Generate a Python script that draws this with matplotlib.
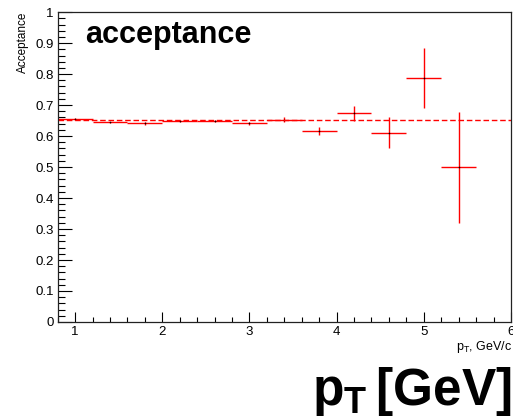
import matplotlib
matplotlib.use("Agg")
import matplotlib.pyplot as plt
from matplotlib.ticker import MultipleLocator

plt.rcParams['font.family'] = ['Liberation Sans', 'DejaVu Sans']
plt.rcParams['mathtext.fontset'] = 'custom'
plt.rcParams['mathtext.rm'] = 'Liberation Sans'
plt.rcParams['mathtext.bf'] = 'Liberation Sans:bold'

pt_centers = [1.0, 1.4, 1.8, 2.2, 2.6, 3.0, 3.4, 3.8, 4.2, 4.6, 5.0, 5.4]
bin_halfwidth = [0.2] * 12
acceptance = [0.656, 0.644, 0.641, 0.649, 0.649, 0.642, 0.653, 0.616, 0.673, 0.611, 0.786, 0.499]
acc_err = [0.003, 0.003, 0.004, 0.003, 0.003, 0.005, 0.007, 0.014, 0.024, 0.050, 0.097, 0.178]
fit_level = 0.651

fig = plt.figure(figsize=(5.13, 4.18), dpi=100)
ax = fig.add_axes([0.1125, 0.2297, 0.996 - 0.1125, 0.971 - 0.2297])

ax.errorbar(pt_centers, acceptance, xerr=bin_halfwidth, yerr=acc_err, fmt='none',
            ecolor='#ff0000', elinewidth=1.0, capsize=0)
ax.plot(pt_centers, acceptance, 'o', color='black', ms=1.2, mew=0)
ax.axhline(fit_level, color='#ff0000', lw=1.0, ls=(0, (4, 2)))

ax.set_xlim(0.8, 6.0)
ax.set_ylim(0, 1)
ax.xaxis.set_major_locator(MultipleLocator(1))
ax.xaxis.set_minor_locator(MultipleLocator(0.2))
ax.yaxis.set_major_locator(MultipleLocator(0.1))
ax.yaxis.set_minor_locator(MultipleLocator(0.02))
ax.set_yticks([0, 0.1, 0.2, 0.3, 0.4, 0.5, 0.6, 0.7, 0.8, 0.9, 1.0])
ax.set_yticklabels(['0', '0.1', '0.2', '0.3', '0.4', '0.5', '0.6', '0.7', '0.8', '0.9', '1'])
ax.set_xticks([1, 2, 3, 4, 5, 6])
ax.set_xticklabels(['1', '2', '3', '4', '5', '6'])
ax.tick_params(axis='y', which='major', direction='in', length=10, width=0.8, labelsize=9.5, pad=3)
ax.tick_params(axis='y', which='minor', direction='in', length=5, width=0.8)
ax.tick_params(axis='x', which='major', direction='in', length=7, width=0.8, labelsize=9.5, pad=3)
ax.tick_params(axis='x', which='minor', direction='in', length=3.5, width=0.8)
for s in ax.spines.values():
    s.set_linewidth(0.9)
    s.set_color('#222222')

fig.text(0.045, 0.971, 'Acceptance', rotation=90, ha='center', va='top', fontsize=8.5)
fig.text(0.998, 0.19, r'p$_{\mathrm{T}}$, GeV/c', ha='right', va='top', fontsize=9)

ax.text(0.06, 0.975, 'acceptance', transform=ax.transAxes, ha='left', va='top',
        fontsize=22, fontweight='bold')
fig.text(0.998, 0.0, r'$\mathbf{p}_{\mathbf{T}}\,\mathbf{[GeV]}$', ha='right', va='bottom',
         fontsize=37)

fig.savefig('out.png', dpi=100)
